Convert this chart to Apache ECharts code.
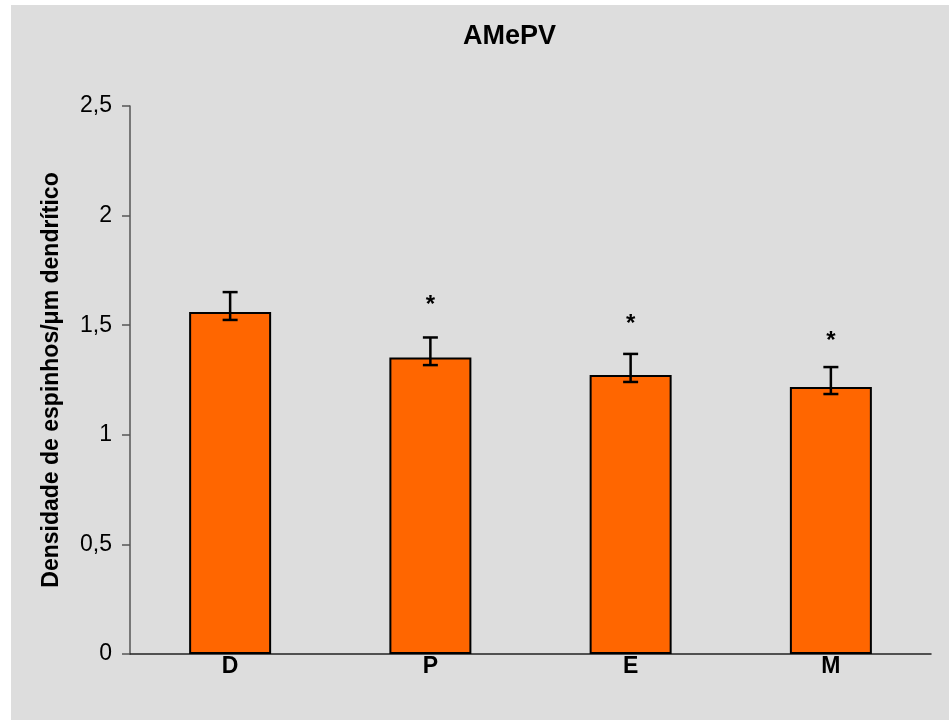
<!DOCTYPE html>
<html>
<head>
<meta charset="utf-8">
<script src="https://cdn.jsdelivr.net/npm/echarts@6/dist/echarts.min.js"></script>
<style>
html,body{margin:0;padding:0;background:#ffffff;}
#chart{width:949px;height:720px;}
</style>
</head>
<body>
<div id="chart"></div>
<script>
const categories = ['D', 'P', 'E', 'M'];
const means = [1.56, 1.353, 1.273, 1.218];
const errUpper = [1.651, 1.444, 1.369, 1.309];
const errLower = [1.524, 1.318, 1.241, 1.186];
const starLevel = [null, 1.62, 1.533, 1.455];
const starText = ['', '*', '*', '*'];
const yTicks = ['0', '0,5', '1', '1,5', '2', '2,5'];

const FONT = "'Liberation Sans', Arial, Helvetica, sans-serif";
const chart = echarts.init(document.getElementById('chart'), null, {renderer: 'canvas'});

const errData = categories.map((c, i) => [i, errLower[i], errUpper[i], starLevel[i], starText[i]]);

chart.setOption({
  backgroundColor: '#ffffff',
  animation: false,
  graphic: [{
    type: 'rect', left: 11, top: 5, z: -10,
    shape: {width: 938, height: 715},
    style: {fill: '#dddddd'}
  }],
  title: {
    text: 'AMePV',
    left: 458, top: 18,
    textStyle: {fontFamily: FONT, fontWeight: 'bold', fontSize: 27, color: '#000'}
  },
  grid: {left: 130, right: 18, top: 106, bottom: 66, containLabel: false},
  xAxis: {
    type: 'category',
    data: categories,
    axisLine: {show: true, lineStyle: {color: '#222', width: 1.5}},
    axisTick: {show: false},
    axisLabel: {fontFamily: FONT, fontWeight: 'bold', fontSize: 23, color: '#000', margin: 1},
    splitLine: {show: false}
  },
  yAxis: {
    type: 'value',
    min: 0, max: 2.5, interval: 0.5,
    name: 'Densidade de espinhos/μm dendrítico',
    nameLocation: 'middle',
    nameGap: 67,
    nameTextStyle: {fontFamily: FONT, fontWeight: 'bold', fontSize: 23, color: '#000'},
    axisLine: {show: true, lineStyle: {color: '#555', width: 1.5}},
    axisTick: {show: true, length: 8, lineStyle: {color: '#555', width: 1.5}},
    axisLabel: {
      fontFamily: FONT, fontSize: 23, color: '#000', margin: 18,
      formatter: function (v) { return yTicks[Math.round(v / 0.5)]; }
    },
    splitLine: {show: false}
  },
  series: [{
    type: 'bar',
    data: means,
    barWidth: 82,
    itemStyle: {color: '#ff6600', borderColor: '#000', borderWidth: 2}
  }, {
    type: 'custom',
    data: errData,
    z: 10,
    renderItem: function (params, api) {
      const i = api.value(0);
      const top = api.coord([i, api.value(2)]);
      const bot = api.coord([i, api.value(1)]);
      const hw = 7.5;
      const children = [
        {type: 'line', shape: {x1: top[0], y1: top[1], x2: bot[0], y2: bot[1]}, style: {stroke: '#000', lineWidth: 2.5}},
        {type: 'line', shape: {x1: top[0] - hw, y1: top[1], x2: top[0] + hw, y2: top[1]}, style: {stroke: '#000', lineWidth: 2.5}},
        {type: 'line', shape: {x1: bot[0] - hw, y1: bot[1], x2: bot[0] + hw, y2: bot[1]}, style: {stroke: '#000', lineWidth: 2.5}}
      ];
      const sl = api.value(3);
      const st = errData[params.dataIndex][4];
      if (st && !isNaN(sl)) {
        const sp = api.coord([i, sl]);
        children.push({
          type: 'text',
          x: sp[0], y: sp[1] + 6,
          style: {text: st, fill: '#000', font: 'bold 24px ' + FONT, textAlign: 'center', textVerticalAlign: 'middle'}
        });
      }
      return {type: 'group', children: children};
    }
  }]
});
</script>
</body>
</html>
